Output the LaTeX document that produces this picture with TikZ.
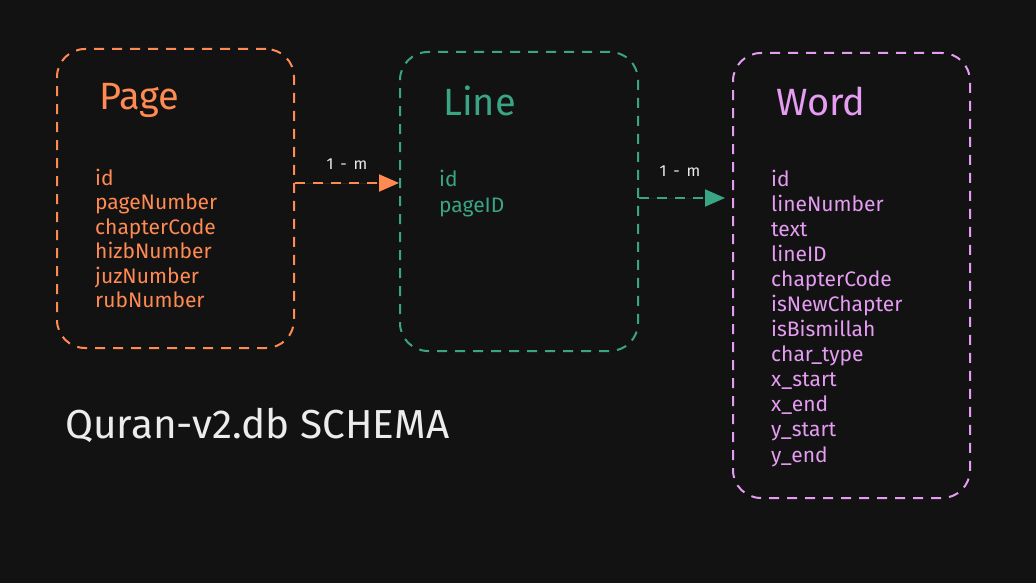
\documentclass[tikz,border=0pt]{standalone}
\usepackage{fontspec}
\setmainfont{Fira Sans}
\usetikzlibrary{arrows.meta}
\definecolor{bg}{HTML}{121212}
\definecolor{cpage}{HTML}{FF8A52}
\definecolor{cline}{HTML}{3AA585}
\definecolor{cword}{HTML}{E59CF2}
\definecolor{ctext}{HTML}{ECECEC}
\tikzset{
  tbox/.style={draw, line width=2pt, dash pattern=on 10pt off 8pt, rounded corners=28pt, inner sep=0pt},
  ttitle/.style={anchor=west, inner sep=0pt, font=\fontsize{38}{44}\selectfont},
  tfield/.style={anchor=west, inner sep=0pt, text height=15pt, text depth=5pt, yshift=-2pt, font=\fontsize{21}{25}\selectfont},
  rel/.style={line width=2pt, dash pattern=on 10pt off 8pt, -{Triangle[length=20pt,width=17pt]}},
  rlabel/.style={inner sep=0pt, text=ctext, font=\fontsize{16}{19}\selectfont},
}
\begin{document}
\begin{tikzpicture}[x=1pt,y=-1pt]
\fill[bg] (0,0) rectangle (1036,583);
\useasboundingbox (0,0) rectangle (1036,583);
% boxes
\node[tbox, draw=cpage, minimum width=237pt, minimum height=299pt] (page) at (175.5,198.5) {};
\node[tbox, draw=cline, minimum width=238pt, minimum height=299pt] (line) at (519,201.5) {};
\node[tbox, draw=cword, minimum width=237pt, minimum height=445pt] (word) at (851.5,275.5) {};
% titles
\node[ttitle, text=cpage] (tpage) at (99,100) {Page};
\node[ttitle, text=cline] (tline) at (443,101) {Line};
\node[ttitle, text=cword] (tword) at (776,101) {Word};
% Page fields
\begin{scope}[every node/.style={tfield, text=cpage}]
\node (p1) at (95,178) {id};
\node (p2) at (95,202.5) {pageNumber};
\node (p3) at (95,227) {chapterCode};
\node (p4) at (95,251.5) {hizbNumber};
\node (p5) at (95,276) {juzNumber};
\node (p6) at (95,300.5) {rubNumber};
\end{scope}
% Line fields
\begin{scope}[every node/.style={tfield, text=cline}]
\node (l1) at (439,179) {id};
\node (l2) at (439,205) {pageID};
\end{scope}
% Word fields
\begin{scope}[every node/.style={tfield, text=cword}]
\node (w1) at (771,179) {id};
\node (w2) at (771,204) {lineNumber};
\node (w3) at (771,229) {text};
\node (w4) at (771,254) {lineID};
\node (w5) at (771,279) {chapterCode};
\node (w6) at (771,304) {isNewChapter};
\node (w7) at (771,329) {isBismillah};
\node (w8) at (771,354) {char\_type};
\node (w9) at (771,379) {x\_start};
\node (w10) at (771,404) {x\_end};
\node (w11) at (771,429) {y\_start};
\node (w12) at (771,455) {y\_end};
\end{scope}
% relations
\coordinate (a1) at (page.east |- 0,183);
\coordinate (a2) at (line.east |- 0,198);
\coordinate (b2) at (725,198);
\draw[rel, draw=cpage, fill=cpage] (a1) -- (line.west |- a1);
\draw[rel, draw=cline, fill=cline] (a2) -- (b2);
\node[rlabel] (r1) at (347,164) {1\,\ -\ \,m};
\node[rlabel] (r2) at (680,171) {1\,\ -\ \,m};
% caption
\node[anchor=west, inner sep=0pt, text=ctext, font=\fontsize{40.5}{46}\selectfont] (cap) at (65,425) {Quran-v2.db SCHEMA};
\end{tikzpicture}
\end{document}
